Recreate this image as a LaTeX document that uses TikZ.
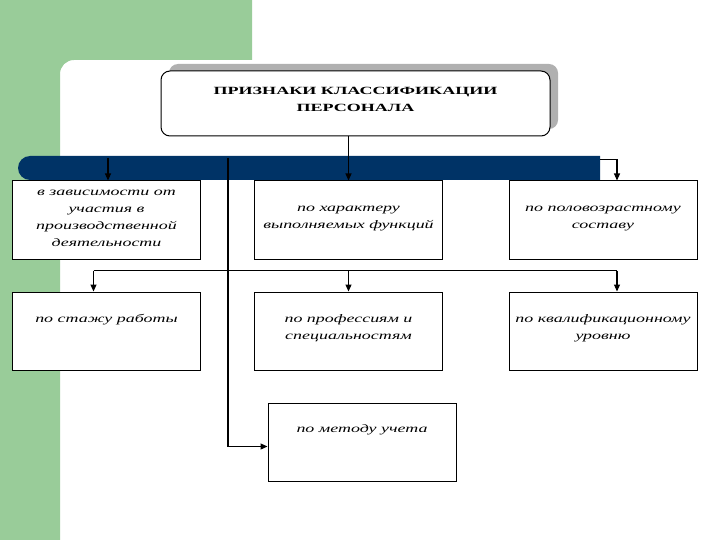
\documentclass[tikz,border=0pt]{standalone}
\usepackage{fontspec}
\setmainfont{Liberation Serif}[FakeStretch=1.56]
\newfontfamily\titlefam{Liberation Serif}[FakeStretch=1.64]
\usetikzlibrary{arrows.meta,calc}
\definecolor{gbg}{RGB}{153,204,153}
\definecolor{navy}{RGB}{0,51,102}
\definecolor{shadowgray}{RGB}{176,176,176}
\begin{document}
\begin{tikzpicture}[x=1pt,y=-1pt,
  box/.style={draw=black,line width=1pt,fill=white,minimum width=188pt,minimum height=78pt,inner sep=0pt},
  txt/.style={align=center,inner sep=0pt,font=\fontsize{11.5}{17}\selectfont\itshape},
  conn/.style={draw=black,line width=1.1pt,-{Triangle[length=7pt,width=6pt]}},
  plain/.style={draw=black,line width=1.1pt}]
\useasboundingbox (0,0) rectangle (720,540);
\fill[white] (0,0) rectangle (720,540);
% green background
\fill[gbg] (0,0) -- (252,0) -- (252,60) -- (150,60) {[rounded corners=14pt] -- (60,60) -- (60,150)} -- (60,540) -- (0,540) -- cycle;
% title with shadow
\fill[shadowgray,rounded corners=9pt] (169,64) rectangle (558,129);
\node[draw=black,line width=1pt,fill=white,rounded corners=9pt,minimum width=389pt,minimum height=65pt,inner sep=0pt] (title) at (355.5,103.5) {};
\node[align=center,inner sep=0pt,font=\titlefam\fontsize{11}{17}\selectfont\bfseries] (ttext) at (355.5,99) {ПРИЗНАКИ КЛАССИФИКАЦИИ\\ПЕРСОНАЛА};
% bar
\fill[navy] (600,156) -- (100,156) {[rounded corners=12pt] -- (18,156) -- (18,180) -- (100,180)} -- (600,180) -- cycle;
\coordinate (bar) at (309,168);
% boxes row 1
\node[box] (b1) at (106.5,220) {};
\node[box] (b2) at (348.5,220) {};
\node[box] (b3) at (603,220) {};
% boxes row 2
\node[box] (b4) at (106.5,331) {};
\node[box] (b5) at (348.5,331) {};
\node[box] (b6) at (603,331) {};
% box 7
\node[box] (b7) at (362,442) {};
% texts
\node[txt] (t1) at (106.5,218) {в зависимости от\\участия в\\производственной\\деятельности};
\node[txt] (t2) at (348.5,218.5) {по характеру\\выполняемых функций};
\node[txt] (t3) at (603,218.5) {по половозрастному\\составу};
\node[txt] (t4) at (106.5,320) {по стажу работы};
\node[txt] (t5) at (348.5,328.5) {по профессиям и\\специальностям};
\node[txt] (t6) at (603,328.5) {по квалификационному\\уровню};
\node[txt] (t7) at (362,430) {по методу учета};
% connectors
\draw[conn] (title.south -| b2.north) -- (b2.north);
\coordinate (bl) at (108,158);
\draw[conn] (bl) -- (bl |- b1.north);
\coordinate (vt) at (228,158);
\coordinate (b7in) at ($(b7.west)+(0,4.5)$);
\draw[conn] (vt) |- (b7in);
\coordinate (br) at (600,159.5);
\draw[conn] (br) -| ($(b3.north)+(14,0)$);
\coordinate (h1) at (93.5,270.5);
\coordinate (h2) at (617,270.5);
\coordinate (hm) at (348.5,270.5);
\draw[plain] (h1) -- (h2);
\draw[conn] (h1) -- (h1 |- b4.north);
\draw[conn] (hm) -- (b5.north);
\draw[conn] (h2) -- (h2 |- b6.north);
\end{tikzpicture}
\end{document}
